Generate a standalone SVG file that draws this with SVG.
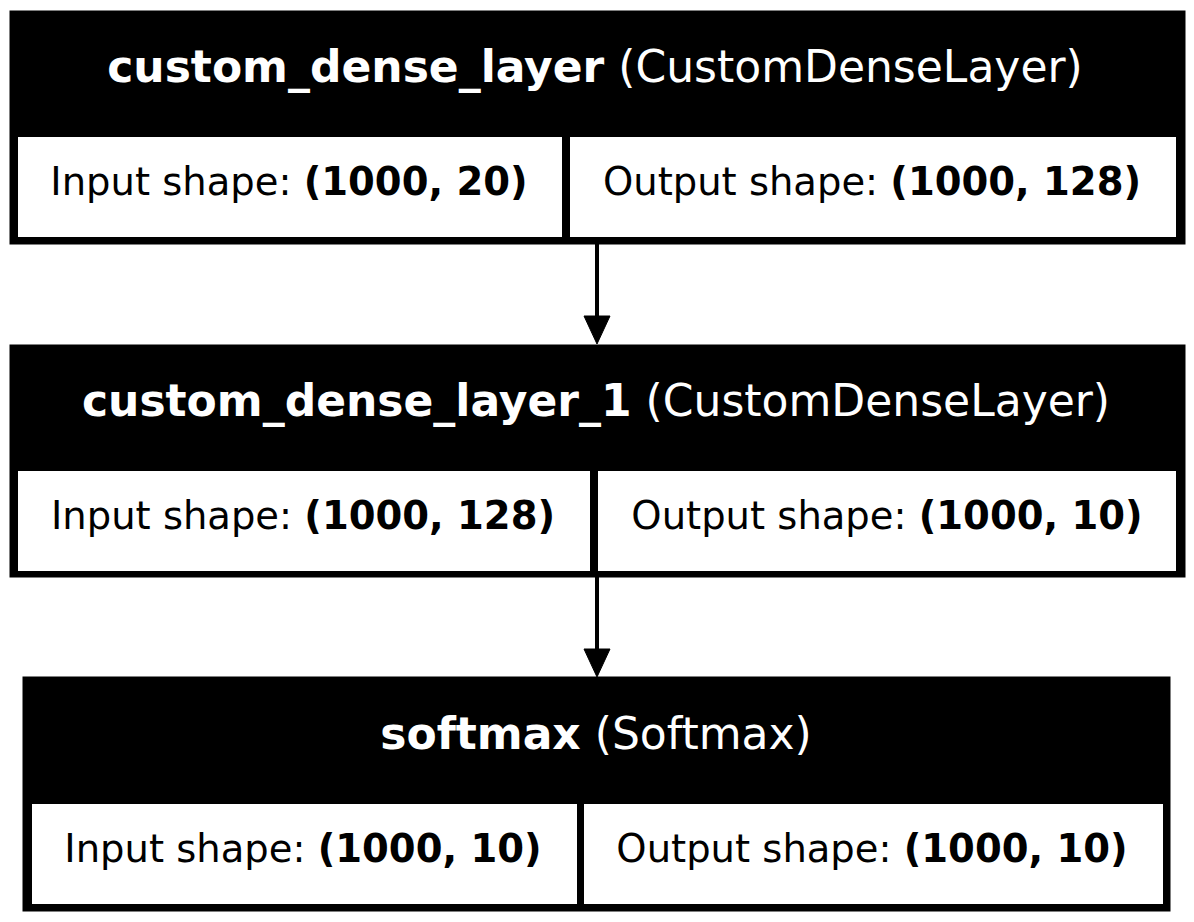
<svg xmlns="http://www.w3.org/2000/svg" width="1194" height="922" viewBox="0 0 1194 922">
<style>
.frame{fill:#000;stroke:#000;stroke-width:1}
.cell{fill:#fff}
.hd{font-family:"DejaVu Sans",sans-serif;font-size:44px;fill:#fff;text-anchor:middle}
.bd{font-family:"DejaVu Sans",sans-serif;font-size:38.5px;fill:#000;text-anchor:middle}
.b{font-weight:bold}
.edge{stroke:#000;stroke-width:4;fill:none}
.head{fill:#000;stroke:#000;stroke-width:1}
</style>
<rect width="1194" height="922" fill="#fff"/>
<g id="custom_dense_layer">
<rect class="frame" x="10" y="11" width="1175" height="233"/>
<rect class="cell" x="18" y="137" width="544" height="100"/>
<rect class="cell" x="570" y="137" width="606" height="100"/>
<text class="hd" x="595" y="82"><tspan class="b">custom_dense_layer</tspan> (CustomDenseLayer)</text>
<text class="bd" x="289" y="195">Input shape: <tspan class="b">(1000, 20)</tspan></text>
<text class="bd" x="872" y="195">Output shape: <tspan class="b">(1000, 128)</tspan></text>
</g>
<g id="custom_dense_layer_1">
<rect class="frame" x="10" y="345" width="1175" height="232"/>
<rect class="cell" x="18" y="471" width="572" height="100"/>
<rect class="cell" x="598" y="471" width="578" height="100"/>
<text class="hd" x="596" y="416"><tspan class="b">custom_dense_layer_1</tspan> (CustomDenseLayer)</text>
<text class="bd" x="303" y="529">Input shape: <tspan class="b">(1000, 128)</tspan></text>
<text class="bd" x="887" y="529">Output shape: <tspan class="b">(1000, 10)</tspan></text>
</g>
<g id="softmax">
<rect class="frame" x="23" y="677" width="1147" height="234"/>
<rect class="cell" x="32" y="804" width="545" height="100"/>
<rect class="cell" x="584" y="804" width="579" height="100"/>
<text class="hd" x="596" y="749"><tspan class="b">softmax</tspan> (Softmax)</text>
<text class="bd" x="303" y="862">Input shape: <tspan class="b">(1000, 10)</tspan></text>
<text class="bd" x="872" y="862">Output shape: <tspan class="b">(1000, 10)</tspan></text>
</g>
<g id="connectors">
<line class="edge" x1="597" y1="244" x2="597" y2="316"/>
<polygon class="head" points="584,316 610,316 597,344"/>
<line class="edge" x1="597" y1="577" x2="597" y2="649"/>
<polygon class="head" points="584,649 610,649 597,677"/>
</g>
</svg>
